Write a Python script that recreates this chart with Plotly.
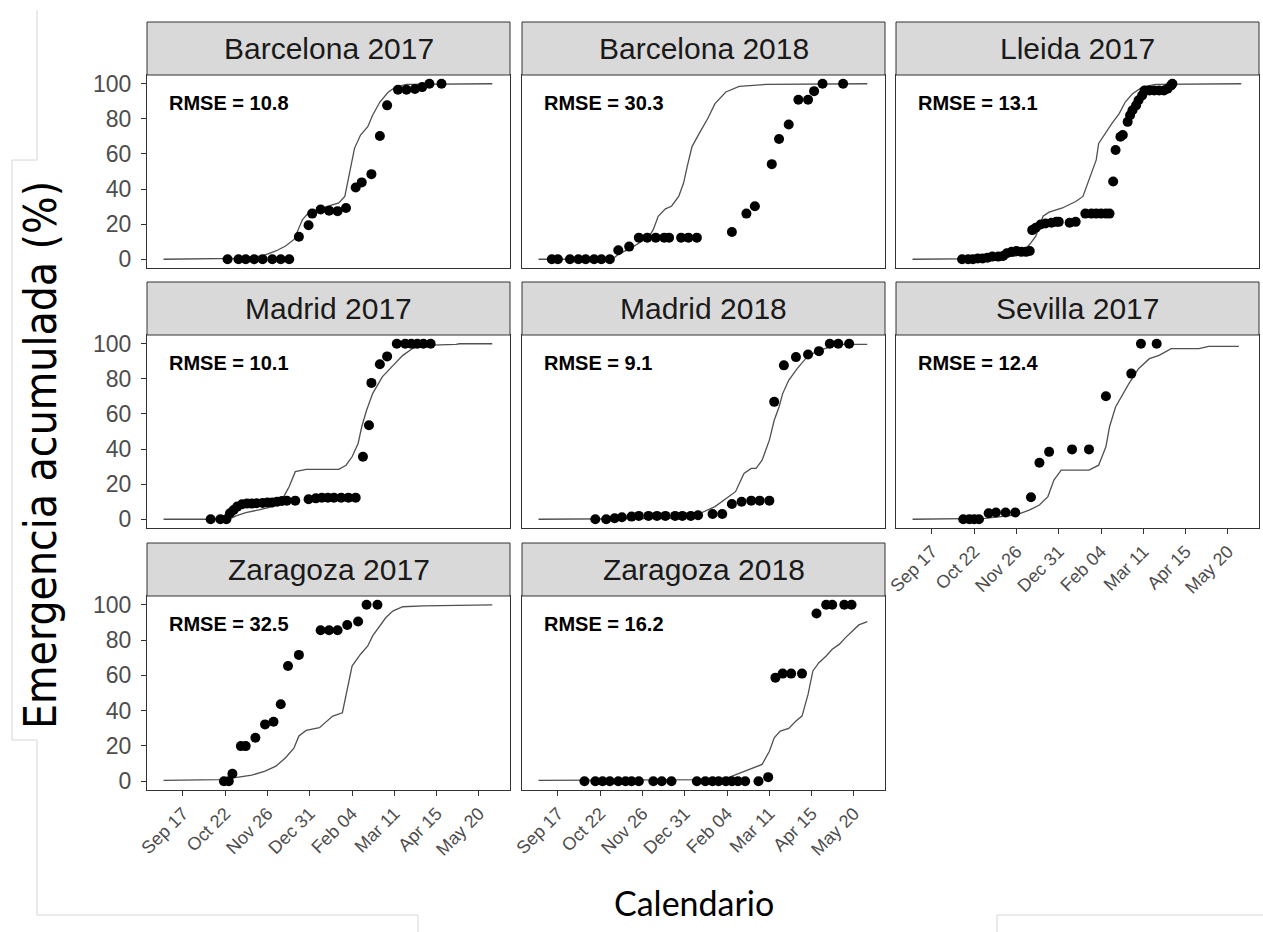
import plotly.graph_objects as go
import pandas as pd

# ---------------- data ----------------
season_start = "2017-09-01"   # day 0 of the common season axis
panels = ["Barcelona 2017", "Barcelona 2018", "Lleida 2017",
          "Madrid 2017", "Madrid 2018", "Sevilla 2017",
          "Zaragoza 2017", "Zaragoza 2018"]
rmse = ["10.8", "30.3", "13.1", "10.1", "9.1", "12.4", "32.5", "16.2"]

tick_days = [16, 51, 86, 121, 156, 191, 226, 261]
tick_labels = ["Sep 17", "Oct 22", "Nov 26", "Dec 31", "Feb 04", "Mar 11", "Apr 15", "May 20"]
y_ticks = [0, 20, 40, 60, 80, 100]

# observed cumulative emergence (days since 1 Sep, %)
bcn17_obs_days = [53, 62, 68, 75, 82, 90, 97, 104, 112, 120, 123, 130, 137, 144, 151, 159, 164, 172, 179, 185, 194, 201, 208, 214, 220, 230]
bcn17_obs_vals = [0, 0, 0, 0, 0, 0, 0, 0, 12.8, 19.4, 26.0, 28.3, 27.7, 27.4, 29.2, 40.9, 43.8, 48.5, 70.2, 87.7, 96.6, 96.6, 97.0, 98.1, 100, 100]
bcn18_obs_days = [11, 16, 26, 33, 39, 46, 52, 59, 66, 75, 83, 90, 97, 104, 108, 118, 124, 131, 160, 172, 179, 193, 199, 207, 215, 223, 228, 235, 252]
bcn18_obs_vals = [0, 0, 0, 0, 0, 0, 0, 0, 5.1, 7.2, 12.3, 12.3, 12.3, 12.3, 12.3, 12.3, 12.3, 12.3, 15.5, 26.0, 30.2, 54.2, 68.5, 76.8, 90.9, 90.9, 95.8, 100, 100]
lle17_obs_days = [41, 46, 50, 54, 58, 62, 66, 71, 75, 78, 82, 86, 90, 94, 97, 99, 102, 106, 110, 115, 119, 121, 130, 135, 143, 148, 152, 156, 160, 163, 166, 168, 172, 174, 178, 180, 182, 185, 187, 190, 192, 196, 200, 204, 208, 211, 214, 215]
lle17_obs_vals = [0, 0, 0, 0.4, 0.4, 0.9, 1.5, 1.5, 1.9, 3.4, 4.2, 4.7, 4.2, 4.2, 4.7, 16.6, 17.9, 19.8, 20.4, 20.8, 21.3, 21.3, 20.8, 21.3, 26, 26, 26, 26, 26, 26, 44.3, 62.3, 69.8, 70.8, 78.3, 82.1, 84.9, 87.7, 90.6, 93.4, 96.2, 96.2, 96.2, 96.2, 96.2, 97.2, 99.1, 100]
mad17_obs_days = [39, 47, 52, 55, 58, 61, 65, 69, 73, 77, 82, 86, 90, 94, 98, 102, 109, 120, 126, 131, 136, 141, 147, 153, 159, 165, 170, 172, 179, 185, 193, 200, 205, 210, 215, 221]
mad17_obs_vals = [0, 0, 0, 3.4, 5.3, 7.2, 8.5, 8.9, 8.9, 9.1, 9.3, 9.5, 9.5, 10.0, 10.4, 10.6, 10.6, 11.4, 11.9, 12.3, 12.3, 12.3, 12.3, 12.3, 12.3, 35.6, 53.6, 77.7, 88.3, 92.8, 100, 100, 100, 100, 100, 100]
mad18_obs_days = [47, 56, 63, 69, 77, 83, 91, 98, 105, 113, 119, 126, 132, 144, 152, 160, 168, 176, 183, 191, 195, 203, 213, 223, 232, 241, 248, 257]
mad18_obs_vals = [0, 0, 0.6, 1.1, 1.5, 1.9, 1.9, 1.9, 1.9, 1.9, 1.9, 1.9, 2.3, 3.0, 3.0, 8.7, 10.0, 10.6, 10.6, 10.6, 66.9, 87.7, 92.4, 93.9, 95.8, 100, 100, 100]
sev17_obs_days = [42, 47, 51, 55, 63, 69, 77, 85, 98, 105, 113, 132, 146, 160, 181, 189, 202]
sev17_obs_vals = [0, 0, 0, 0, 3.4, 3.8, 3.8, 3.8, 12.5, 32.2, 38.4, 39.8, 39.8, 70.1, 83.0, 100, 100]
zar17_obs_days = [50, 54, 57, 64, 68, 76, 84, 91, 97, 103, 112, 130, 137, 144, 152, 161, 168, 177]
zar17_obs_vals = [0, 0, 4.2, 19.9, 19.9, 24.6, 32.2, 33.7, 43.6, 65.3, 71.6, 85.6, 85.6, 85.6, 88.6, 90.5, 100, 100]
zar18_obs_days = [38, 47, 53, 59, 66, 72, 77, 83, 95, 102, 110, 131, 138, 144, 149, 155, 160, 165, 171, 182, 190, 196, 202, 209, 218, 230, 238, 243, 253, 259]
zar18_obs_vals = [0, 0, 0, 0, 0, 0, 0, 0, 0, 0, 0, 0, 0, 0, 0, 0, 0, 0, 0, 0, 2.3, 58.7, 61, 61, 61, 95.1, 100, 100, 100, 100]

# modelled cumulative emergence (days since 1 Sep, %)
bcn17_mod_days = [0, 60, 82, 93, 101, 108, 115, 120, 129, 145, 150, 154, 158, 163, 169, 173, 179, 186, 192, 201, 272]
bcn17_mod_vals = [0, 0.5, 1.9, 4.7, 7.5, 11.3, 22.6, 26.4, 28.7, 32.1, 35.8, 49.0, 63.2, 70.8, 75.5, 82.1, 89.6, 95.3, 98.1, 99.6, 100]
bcn18_mod_days = [0, 61, 66, 77, 86, 91, 95, 99, 105, 110, 116, 120, 123, 127, 133, 140, 146, 155, 166, 188, 272]
bcn18_mod_vals = [0, 0, 2.8, 6.6, 10.4, 12.3, 17.0, 24.5, 28.7, 30.2, 35.8, 43.4, 52.8, 64.2, 71.7, 80.2, 88.7, 95.3, 98.5, 99.6, 100]
lle17_mod_days = [0, 60, 86, 91, 97, 102, 108, 113, 124, 135, 141, 146, 152, 154, 160, 165, 171, 176, 182, 190, 201, 272]
lle17_mod_vals = [0, 0.3, 1.9, 4.2, 8.5, 13.2, 24.5, 26.8, 29.2, 32.9, 35.8, 45.3, 56.6, 66.0, 72.6, 77.4, 83.0, 89.6, 94.3, 98.1, 99.6, 100]
mad17_mod_days = [0, 54, 60, 68, 79, 90, 98, 104, 109, 118, 145, 151, 156, 161, 164, 168, 173, 181, 190, 198, 206, 215, 242, 245, 272]
mad17_mod_vals = [0, 0, 1.9, 3.8, 5.3, 7.2, 11.0, 18.6, 27.1, 28.4, 28.4, 30.8, 35.6, 43.2, 52.7, 62.1, 71.6, 81.1, 87.7, 93.4, 97.3, 99.1, 99.6, 100, 100]
mad18_mod_days = [0, 115, 130, 134, 146, 158, 163, 170, 176, 180, 185, 191, 195, 199, 202, 207, 214, 221, 230, 241, 246, 272]
mad18_mod_vals = [0, 0.5, 1.5, 3.4, 7.2, 12.9, 15.7, 26.1, 29.0, 29.0, 33.7, 45.1, 56.4, 64.0, 71.6, 79.2, 85.8, 91.5, 95.8, 98.1, 99.6, 99.6]
sev17_mod_days = [0, 60, 86, 97, 105, 112, 117, 123, 146, 154, 160, 163, 168, 179, 187, 196, 204, 214, 237, 245, 270]
sev17_mod_vals = [0, 0.5, 2.5, 5.3, 8.1, 12.9, 22.3, 28.0, 28.0, 30.8, 41.3, 52.7, 64.0, 77.3, 85.8, 91.5, 93.4, 97.2, 97.2, 98.5, 98.5]
zar17_mod_days = [0, 46, 62, 73, 84, 93, 101, 108, 112, 118, 129, 140, 148, 152, 156, 163, 169, 173, 179, 184, 190, 198, 215, 272]
zar17_mod_vals = [0.5, 0.9, 2.3, 3.4, 5.7, 8.5, 13.3, 18.9, 25.6, 28.8, 30.3, 36.9, 38.8, 51.1, 65.3, 72.0, 76.7, 82.4, 88.1, 92.8, 96.6, 98.9, 99.4, 100]
zar18_mod_days = [0, 146, 158, 169, 180, 185, 191, 195, 200, 207, 213, 218, 223, 227, 232, 238, 243, 249, 254, 260, 265, 272]
zar18_mod_vals = [0.5, 0.9, 2.3, 5.3, 8.5, 9.5, 17.0, 24.6, 28.4, 29.9, 34.1, 36.9, 49.2, 62.5, 67.2, 71.0, 74.8, 77.7, 81.4, 85.2, 88.6, 90.5]

obs = [(bcn17_obs_days, bcn17_obs_vals), (bcn18_obs_days, bcn18_obs_vals), (lle17_obs_days, lle17_obs_vals),
       (mad17_obs_days, mad17_obs_vals), (mad18_obs_days, mad18_obs_vals), (sev17_obs_days, sev17_obs_vals),
       (zar17_obs_days, zar17_obs_vals), (zar18_obs_days, zar18_obs_vals)]
mod = [(bcn17_mod_days, bcn17_mod_vals), (bcn18_mod_days, bcn18_mod_vals), (lle17_mod_days, lle17_mod_vals),
       (mad17_mod_days, mad17_mod_vals), (mad18_mod_days, mad18_mod_vals), (sev17_mod_days, sev17_mod_vals),
       (zar17_mod_days, zar17_mod_vals), (zar18_mod_days, zar18_mod_vals)]


def to_dates(days):
    base = pd.Timestamp(season_start)
    return [(base + pd.Timedelta(days=d)).strftime("%Y-%m-%d") for d in days]


# ---------------- layout geometry (pixels) ----------------
W, H = 1263, 932
col_px = [(147, 510), (522, 885), (896, 1259)]
row_px = [(75, 268), (335, 528), (596, 790)]   # plot area top, bottom
strip_h = 53
bottom_panels = {5, 6, 7}
x_range = ["2017-08-18 08:00", "2018-06-14 16:00"]

TICK_FONT = "Liberation Sans, Arial, sans-serif"
LINE_C = "#333333"

fig = go.Figure()
layout = dict(template="none", width=W, height=H, autosize=False,
              margin=dict(l=0, r=0, t=0, b=0, pad=0),
              paper_bgcolor="white", plot_bgcolor="white", showlegend=False)
shapes, annotations = [], []

for i, name in enumerate(panels):
    r, c = divmod(i, 3)
    n = i + 1
    xa = "x" if n == 1 else f"x{n}"
    ya = "y" if n == 1 else f"y{n}"
    (x0, x1), (top, bot) = col_px[c], row_px[r]

    md, mv = mod[i]
    od, ov = obs[i]
    fig.add_trace(go.Scatter(x=to_dates(md), y=mv, mode="lines",
                             line=dict(color="#505050", width=1.3),
                             xaxis=xa, yaxis=ya, hoverinfo="skip"))
    fig.add_trace(go.Scatter(x=to_dates(od), y=ov, mode="markers",
                             marker=dict(color="black", size=10),
                             xaxis=xa, yaxis=ya))

    show_x = i in bottom_panels
    show_y = c == 0
    layout["xaxis" if n == 1 else f"xaxis{n}"] = dict(
        domain=[x0 / W, x1 / W], anchor=ya, type="date", range=x_range, automargin=False,
        showgrid=False, zeroline=False, showline=True, mirror=True,
        linecolor=LINE_C, linewidth=1,
        tickvals=to_dates(tick_days), ticktext=tick_labels, tickangle=-45,
        ticks="outside" if show_x else "", ticklen=5, tickcolor=LINE_C,
        showticklabels=show_x,
        tickfont=dict(family=TICK_FONT, size=18, color="#4D4D4D"))
    layout["yaxis" if n == 1 else f"yaxis{n}"] = dict(
        domain=[1 - bot / H, 1 - top / H], anchor=xa, range=[-5, 105], automargin=False,
        showgrid=False, zeroline=False, showline=True, mirror=True,
        linecolor=LINE_C, linewidth=1,
        tickvals=y_ticks, ticktext=[str(v) for v in y_ticks],
        ticks="outside" if show_y else "", ticklen=5, tickcolor=LINE_C,
        showticklabels=show_y, ticklabelstandoff=5,
        tickfont=dict(family=TICK_FONT, size=23, color="#4D4D4D"))

    # strip
    shapes.append(dict(type="rect", xref="paper", yref="paper",
                       x0=x0 / W, x1=x1 / W, y0=1 - top / H, y1=1 - (top - strip_h) / H,
                       fillcolor="#D9D9D9", line=dict(color=LINE_C, width=1)))
    annotations.append(dict(text=name, xref="paper", yref="paper",
                            x=(x0 + x1) / 2 / W, y=1 - (top - strip_h / 2) / H,
                            xanchor="center", yanchor="middle", showarrow=False,
                            font=dict(family=TICK_FONT, size=30, color="#1A1A1A")))
    # RMSE label
    annotations.append(dict(text=f"<b>RMSE = {rmse[i]}</b>", xref=f"{xa} domain", yref=ya,
                            x=0.055, y=89, xanchor="left", yanchor="middle", showarrow=False,
                            font=dict(family=TICK_FONT, size=20, color="black")))

# axis titles
annotations.append(dict(text="Calendario", xref="paper", yref="paper",
                        x=694 / W, y=1 - 902 / H, xanchor="center", yanchor="middle",
                        showarrow=False, font=dict(family="Lato, Open Sans, sans-serif", size=34, color="black")))
annotations.append(dict(text="Emergencia acumulada (%)", xref="paper", yref="paper",
                        x=40 / W, y=1 - 455 / H, xanchor="center", yanchor="middle", textangle=-90,
                        showarrow=False,
                        font=dict(family="Liberation Sans Narrow, DejaVu Sans Condensed, Lato, sans-serif",
                                  size=44, color="black")))

# faint frame lines of the pasted picture
frame = [(37, 10, 37, 160), (12, 160, 37, 160), (12, 160, 12, 740), (12, 740, 37, 740),
         (37, 740, 37, 915), (37, 915, 418, 915), (418, 915, 418, 932),
         (997, 915, 997, 932), (997, 915, 1263, 915)]
for (a, b, cc, d) in frame:
    shapes.append(dict(type="line", xref="paper", yref="paper",
                       x0=a / W, y0=1 - b / H, x1=cc / W, y1=1 - d / H,
                       line=dict(color="#D6D6D6", width=1)))

layout["shapes"] = shapes
layout["annotations"] = annotations
fig.update_layout(**layout)

post = ("document.documentElement.style.margin='0px';"
        "document.body.style.margin='0px';document.body.style.padding='0px';"
        "document.body.style.overflow='hidden';"
        "var gd=document.getElementById('{plot_id}');"
        "gd.style.position='absolute';gd.style.left='0px';gd.style.top='0px';")
fig.write_html("out.html", config={"displayModeBar": False}, post_script=post)
